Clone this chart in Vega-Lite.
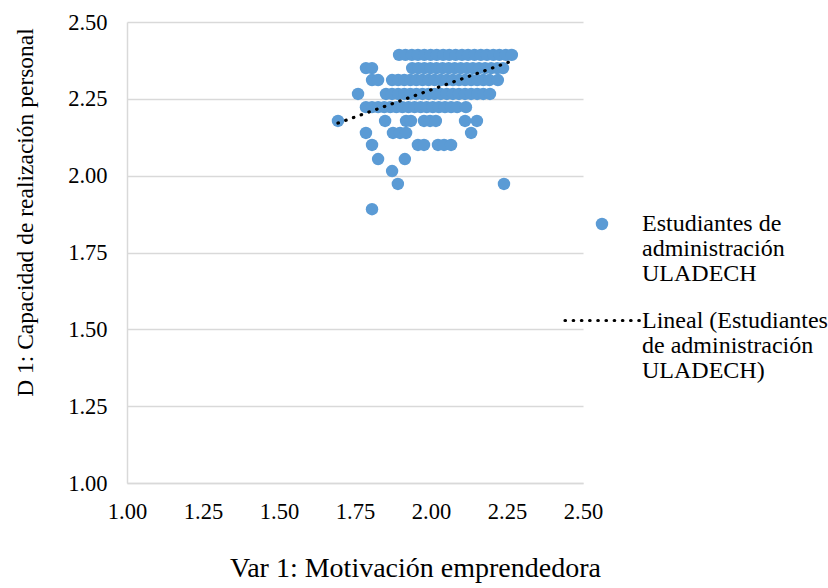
{
  "$schema": "https://vega.github.io/schema/vega-lite/v6.json",
  "width": 456,
  "height": 461,
  "autosize": {"type": "none"},
  "padding": {"left": 127, "top": 22, "right": 245, "bottom": 105},
  "background": "white",
  "config": {
    "view": {"stroke": null},
    "font": "Liberation Serif",
    "axis": {
      "labelFont": "Liberation Serif",
      "labelFontSize": 22.5,
      "labelColor": "#000000",
      "labelFlush": false,
      "titleFont": "Liberation Serif",
      "titleFontWeight": "normal",
      "titleColor": "#000000",
      "ticks": false,
      "domainColor": "#D9D9D9",
      "domainWidth": 1.5,
      "gridColor": "#D9D9D9",
      "gridWidth": 1.3
    },
    "legend": {
      "labelFont": "Liberation Serif",
      "labelFontSize": 24,
      "labelColor": "#000000",
      "labelLimit": 400,
      "padding": 0
    }
  },
  "datasets": {
    "pts": [
      {"x":1.895,"y":2.393},{"x":1.916,"y":2.393},{"x":1.937,"y":2.393},{"x":1.957,"y":2.393},{"x":1.978,"y":2.393},{"x":1.999,"y":2.393},{"x":2.019,"y":2.393},{"x":2.04,"y":2.393},{"x":2.06,"y":2.393},{"x":2.081,"y":2.393},{"x":2.102,"y":2.393},{"x":2.122,"y":2.393},{"x":2.143,"y":2.393},{"x":2.164,"y":2.393},{"x":2.184,"y":2.393},{"x":2.205,"y":2.393},{"x":2.225,"y":2.393},{"x":2.246,"y":2.393},{"x":2.266,"y":2.393},
      {"x":1.786,"y":2.35},{"x":1.806,"y":2.35},{"x":1.938,"y":2.35},{"x":1.958,"y":2.35},{"x":1.978,"y":2.35},{"x":1.998,"y":2.35},{"x":2.018,"y":2.35},{"x":2.038,"y":2.35},{"x":2.058,"y":2.35},{"x":2.078,"y":2.35},{"x":2.098,"y":2.35},{"x":2.118,"y":2.35},{"x":2.138,"y":2.35},{"x":2.158,"y":2.35},{"x":2.178,"y":2.35},{"x":2.198,"y":2.35},{"x":2.218,"y":2.35},{"x":2.237,"y":2.35},
      {"x":1.806,"y":2.311},{"x":1.826,"y":2.311},{"x":1.872,"y":2.311},{"x":1.892,"y":2.311},{"x":1.912,"y":2.311},{"x":1.932,"y":2.311},{"x":1.952,"y":2.311},{"x":1.972,"y":2.311},{"x":1.992,"y":2.311},{"x":2.012,"y":2.311},{"x":2.032,"y":2.311},{"x":2.052,"y":2.311},{"x":2.072,"y":2.311},{"x":2.092,"y":2.311},{"x":2.112,"y":2.311},{"x":2.132,"y":2.311},{"x":2.152,"y":2.311},{"x":2.172,"y":2.311},{"x":2.192,"y":2.311},{"x":2.22,"y":2.311},
      {"x":1.76,"y":2.266},{"x":1.852,"y":2.266},{"x":1.872,"y":2.266},{"x":1.892,"y":2.266},{"x":1.912,"y":2.266},{"x":1.932,"y":2.266},{"x":1.952,"y":2.266},{"x":1.972,"y":2.266},{"x":1.992,"y":2.266},{"x":2.012,"y":2.266},{"x":2.032,"y":2.266},{"x":2.052,"y":2.266},{"x":2.072,"y":2.266},{"x":2.092,"y":2.266},{"x":2.112,"y":2.266},{"x":2.132,"y":2.266},{"x":2.152,"y":2.266},{"x":2.172,"y":2.266},{"x":2.194,"y":2.266},
      {"x":1.786,"y":2.223},{"x":1.806,"y":2.223},{"x":1.826,"y":2.223},{"x":1.846,"y":2.223},{"x":1.866,"y":2.223},{"x":1.886,"y":2.223},{"x":1.906,"y":2.223},{"x":1.926,"y":2.223},{"x":1.946,"y":2.223},{"x":1.966,"y":2.223},{"x":1.986,"y":2.223},{"x":2.006,"y":2.223},{"x":2.026,"y":2.223},{"x":2.046,"y":2.223},{"x":2.066,"y":2.223},{"x":2.086,"y":2.223},{"x":2.115,"y":2.223},
      {"x":1.694,"y":2.178},{"x":1.849,"y":2.178},{"x":1.918,"y":2.178},{"x":1.934,"y":2.178},{"x":1.977,"y":2.178},{"x":1.997,"y":2.178},{"x":2.016,"y":2.178},{"x":2.112,"y":2.178},{"x":2.151,"y":2.178},
      {"x":1.786,"y":2.139},{"x":1.875,"y":2.139},{"x":1.898,"y":2.139},{"x":1.918,"y":2.139},{"x":2.132,"y":2.139},
      {"x":1.806,"y":2.1},{"x":1.957,"y":2.1},{"x":1.977,"y":2.1},{"x":2.023,"y":2.1},{"x":2.043,"y":2.1},{"x":2.066,"y":2.1},
      {"x":1.826,"y":2.054},{"x":1.914,"y":2.054},
      {"x":1.872,"y":2.015},
      {"x":1.891,"y":1.973},{"x":2.24,"y":1.973},
      {"x":1.806,"y":1.891}
    ],
    "trend": [
      {"x":1.694,"y":2.171},
      {"x":2.266,"y":2.373}
    ]
  },
  "layer": [
    {
      "data": {"name": "pts"},
      "mark": {"type": "circle", "size": 155, "opacity": 1},
      "encoding": {
        "x": {
          "field": "x", "type": "quantitative",
          "scale": {"domain": [1, 2.5], "nice": false, "zero": false},
          "axis": {
            "values": [1, 1.25, 1.5, 1.75, 2, 2.25, 2.5],
            "format": ".2f",
            "grid": false,
            "labelPadding": 17,
            "title": "Var 1: Motivación emprendedora",
            "titleFontSize": 28,
            "titleX": 288,
            "titleY": 85,
            "titleAnchor": "middle",
            "titleAlign": "center",
            "titleBaseline": "middle"
          }
        },
        "y": {
          "field": "y", "type": "quantitative",
          "scale": {"domain": [1, 2.5], "nice": false, "zero": false},
          "axis": {
            "values": [1, 1.25, 1.5, 1.75, 2, 2.25, 2.5],
            "format": ".2f",
            "grid": true,
            "labelPadding": 20,
            "title": "D 1: Capacidad de realización personal",
            "titleFontSize": 23.5,
            "titleX": -102,
            "titleY": 190,
            "titleAngle": -90,
            "titleAlign": "center",
            "titleBaseline": "middle"
          }
        },
        "color": {
          "datum": "Estudiantes de administración ULADECH",
          "type": "nominal",
          "scale": {"domain": ["Estudiantes de administración ULADECH"], "range": ["#5B9BD5"]},
          "legend": {
            "title": null,
            "orient": "none",
            "legendX": 463,
            "legendY": 190,
            "symbolType": "circle",
            "symbolSize": 155,
            "symbolOpacity": 1,
            "labelOffset": 28,
            "labelBaseline": "top",
            "labelExpr": "['Estudiantes de', 'administración', 'ULADECH']",
            "encode": {"labels": {"update": {"lineHeight": {"value": 25}, "dy": {"value": -12}}}}
          }
        }
      }
    },
    {
      "data": {"name": "trend"},
      "mark": {"type": "line", "color": "#000000", "strokeWidth": 3.2, "strokeCap": "round"},
      "encoding": {
        "x": {"field": "x", "type": "quantitative"},
        "y": {"field": "y", "type": "quantitative"},
        "strokeDash": {
          "datum": "Lineal (Estudiantes de administración ULADECH)",
          "type": "nominal",
          "scale": {"domain": ["Lineal (Estudiantes de administración ULADECH)"], "range": [[0.5, 7.7]]},
          "legend": {
            "title": null,
            "orient": "none",
            "legendX": 436,
            "legendY": 259,
            "symbolType": "stroke",
            "symbolSize": 5625,
            "symbolStrokeColor": "#000000",
            "symbolStrokeWidth": 3.2,
            "labelOffset": 0,
            "labelBaseline": "top",
            "labelExpr": "['Lineal (Estudiantes', 'de administración', 'ULADECH)']",
            "encode": {
              "labels": {"update": {"lineHeight": {"value": 25}, "dy": {"value": -12}}},
              "symbols": {"update": {"strokeCap": {"value": "round"}}}
            }
          }
        }
      }
    }
  ]
}
